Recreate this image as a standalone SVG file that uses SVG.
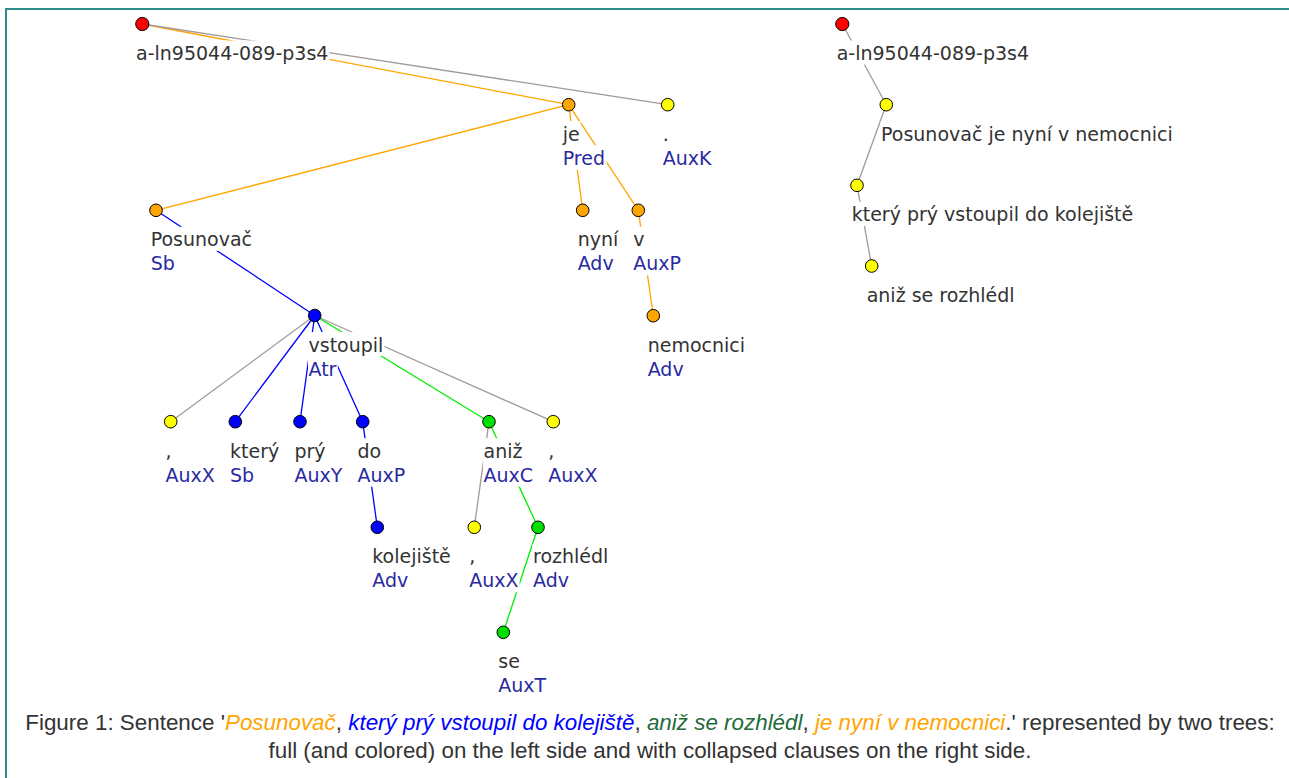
<svg xmlns="http://www.w3.org/2000/svg" width="1289" height="778" viewBox="0 0 1289 778">
<style>
.e{fill:none;stroke-width:1.3}
.eo{stroke:#ffa500}.eg{stroke:#a39999}.eb{stroke:#0000ff}.el{stroke:#00ee00}
.bg{fill:#ffffff}
.w{font-family:"DejaVu Sans","Verdana",sans-serif;font-size:19px;fill:#333333}
.f{font-family:"DejaVu Sans","Verdana",sans-serif;font-size:19px;fill:#2a2aa0}
.n{stroke:#000000;stroke-width:1}
.red{fill:#ff0000}.org{fill:#ffa500}.yel{fill:#ffff00}.blu{fill:#0000ff}.grn{fill:#00e000}
.cap{font-family:"Liberation Sans",Arial,sans-serif;font-size:22.4px;fill:#333333}
.it{font-style:italic}
</style>
<rect x="0" y="0" width="1289" height="778" fill="#ffffff"/>
<g id="frame" stroke="#2f8b8b" stroke-width="2" fill="none">
<line x1="5" y1="9" x2="1289" y2="9"/>
<line x1="6" y1="8" x2="6" y2="778"/>
</g>
<g id="connectors" class="e">
<line class="eo" x1="142.3" y1="24" x2="568.7" y2="104.7"/>
<line class="eg" x1="142.3" y1="24" x2="667.7" y2="104.7"/>
<line class="eo" x1="568.7" y1="104.7" x2="156" y2="210.3"/>
<line class="eo" x1="568.7" y1="104.7" x2="582.7" y2="210.3"/>
<line class="eo" x1="568.7" y1="104.7" x2="638.3" y2="210.3"/>
<line class="eo" x1="638.3" y1="210.3" x2="653.3" y2="315.7"/>
<line class="eb" x1="156" y1="210.3" x2="314.7" y2="315.5"/>
<line class="eg" x1="314.7" y1="315.5" x2="170.7" y2="421.7"/>
<line class="eb" x1="314.7" y1="315.5" x2="235.3" y2="421.7"/>
<line class="eb" x1="314.7" y1="315.5" x2="300" y2="421.7"/>
<line class="eb" x1="314.7" y1="315.5" x2="362.7" y2="421.7"/>
<line class="el" x1="314.7" y1="315.5" x2="489" y2="421.7"/>
<line class="eg" x1="314.7" y1="315.5" x2="553.3" y2="421.7"/>
<line class="eb" x1="362.7" y1="421.7" x2="377.3" y2="527.3"/>
<line class="eg" x1="489" y1="421.7" x2="474.3" y2="527.3"/>
<line class="el" x1="489" y1="421.7" x2="538" y2="527.3"/>
<line class="el" x1="538" y1="527.3" x2="503.3" y2="632.3"/>
<line class="eg" x1="842.3" y1="24" x2="886.3" y2="104.7"/>
<line class="eg" x1="886.3" y1="104.7" x2="857" y2="185.3"/>
<line class="eg" x1="857" y1="185.3" x2="871.7" y2="266"/>
</g>
<g id="n-root">
<rect class="bg" x="135.5" y="40.5" width="193.9" height="24"/>
<text class="w" x="136" y="60">a-ln95044-089-p3s4</text>
<circle class="n red" cx="142.3" cy="24" r="6.6"/>
</g>
<g id="n-je">
<rect class="bg" x="562.2" y="121.2" width="18.5" height="24"/>
<rect class="bg" x="562.2" y="145.2" width="44.5" height="24.5"/>
<text class="w" x="562.7" y="140.7">je</text>
<text class="f" x="562.7" y="164.7">Pred</text>
<circle class="n org" cx="568.7" cy="104.7" r="6.3"/>
</g>
<g id="n-dot">
<rect class="bg" x="662.2" y="121.2" width="7.5" height="24"/>
<rect class="bg" x="662.2" y="145.2" width="50.3" height="24.5"/>
<text class="w" x="662.7" y="140.7">.</text>
<text class="f" x="662.7" y="164.7">AuxK</text>
<circle class="n yel" cx="667.7" cy="104.7" r="6.3"/>
</g>
<g id="n-posunovac">
<rect class="bg" x="150.2" y="226.8" width="103.5" height="24"/>
<rect class="bg" x="150.2" y="250.8" width="25.6" height="24.5"/>
<text class="w" x="150.7" y="246.3">Posunovač</text>
<text class="f" x="150.7" y="270.3">Sb</text>
<circle class="n org" cx="156" cy="210.3" r="6.3"/>
</g>
<g id="n-nyni">
<rect class="bg" x="577.2" y="226.8" width="42.1" height="24"/>
<rect class="bg" x="577.2" y="250.8" width="37.8" height="24.5"/>
<text class="w" x="577.7" y="246.3">nyní</text>
<text class="f" x="577.7" y="270.3">Adv</text>
<circle class="n org" cx="582.7" cy="210.3" r="6.3"/>
</g>
<g id="n-v">
<rect class="bg" x="632.8" y="226.8" width="12.7" height="24"/>
<rect class="bg" x="632.8" y="250.8" width="49.2" height="24.5"/>
<text class="w" x="633.3" y="246.3">v</text>
<text class="f" x="633.3" y="270.3">AuxP</text>
<circle class="n org" cx="638.3" cy="210.3" r="6.3"/>
</g>
<g id="n-vstoupil">
<rect class="bg" x="308" y="332" width="76.4" height="24"/>
<rect class="bg" x="308" y="356" width="29.8" height="24.5"/>
<text class="w" x="308.5" y="351.5">vstoupil</text>
<text class="f" x="308.5" y="375.5">Atr</text>
<circle class="n blu" cx="314.7" cy="315.5" r="6.3"/>
</g>
<g id="n-nemocnici">
<rect class="bg" x="647.2" y="332.2" width="98.9" height="24"/>
<rect class="bg" x="647.2" y="356.2" width="37.8" height="24.5"/>
<text class="w" x="647.7" y="351.7">nemocnici</text>
<text class="f" x="647.7" y="375.7">Adv</text>
<circle class="n org" cx="653.3" cy="315.7" r="6.3"/>
</g>
<g id="n-comma1">
<rect class="bg" x="165" y="438.2" width="7.5" height="24"/>
<rect class="bg" x="165" y="462.2" width="50.8" height="24.5"/>
<text class="w" x="165.5" y="457.7">,</text>
<text class="f" x="165.5" y="481.7">AuxX</text>
<circle class="n yel" cx="170.7" cy="421.7" r="6.3"/>
</g>
<g id="n-ktery">
<rect class="bg" x="229.5" y="438.2" width="50.7" height="24"/>
<rect class="bg" x="229.5" y="462.2" width="25.6" height="24.5"/>
<text class="w" x="230" y="457.7">který</text>
<text class="f" x="230" y="481.7">Sb</text>
<circle class="n blu" cx="235.3" cy="421.7" r="6.3"/>
</g>
<g id="n-pry">
<rect class="bg" x="294" y="438.2" width="32.6" height="24"/>
<rect class="bg" x="294" y="462.2" width="49.4" height="24.5"/>
<text class="w" x="294.5" y="457.7">prý</text>
<text class="f" x="294.5" y="481.7">AuxY</text>
<circle class="n blu" cx="300" cy="421.7" r="6.3"/>
</g>
<g id="n-do">
<rect class="bg" x="357" y="438.2" width="25.2" height="24"/>
<rect class="bg" x="357" y="462.2" width="49.2" height="24.5"/>
<text class="w" x="357.5" y="457.7">do</text>
<text class="f" x="357.5" y="481.7">AuxP</text>
<circle class="n blu" cx="362.7" cy="421.7" r="6.3"/>
</g>
<g id="n-aniz">
<rect class="bg" x="483" y="438.2" width="40.5" height="24"/>
<rect class="bg" x="483" y="462.2" width="51.1" height="24.5"/>
<text class="w" x="483.5" y="457.7">aniž</text>
<text class="f" x="483.5" y="481.7">AuxC</text>
<circle class="n grn" cx="489" cy="421.7" r="6.3"/>
</g>
<g id="n-comma2">
<rect class="bg" x="547.8" y="438.2" width="7.5" height="24"/>
<rect class="bg" x="547.8" y="462.2" width="50.8" height="24.5"/>
<text class="w" x="548.3" y="457.7">,</text>
<text class="f" x="548.3" y="481.7">AuxX</text>
<circle class="n yel" cx="553.3" cy="421.7" r="6.3"/>
</g>
<g id="n-kolejiste">
<rect class="bg" x="371.8" y="543.8" width="80.7" height="24"/>
<rect class="bg" x="371.8" y="567.8" width="37.8" height="24.5"/>
<text class="w" x="372.3" y="563.3">kolejiště</text>
<text class="f" x="372.3" y="587.3">Adv</text>
<circle class="n blu" cx="377.3" cy="527.3" r="6.3"/>
</g>
<g id="n-comma3">
<rect class="bg" x="468.8" y="543.8" width="7.5" height="24"/>
<rect class="bg" x="468.8" y="567.8" width="50.8" height="24.5"/>
<text class="w" x="469.3" y="563.3">,</text>
<text class="f" x="469.3" y="587.3">AuxX</text>
<circle class="n yel" cx="474.3" cy="527.3" r="6.3"/>
</g>
<g id="n-rozhledl">
<rect class="bg" x="532.5" y="543.8" width="77.3" height="24"/>
<rect class="bg" x="532.5" y="567.8" width="37.8" height="24.5"/>
<text class="w" x="533" y="563.3">rozhlédl</text>
<text class="f" x="533" y="587.3">Adv</text>
<circle class="n grn" cx="538" cy="527.3" r="6.3"/>
</g>
<g id="n-se">
<rect class="bg" x="497.8" y="648.8" width="23.1" height="24"/>
<rect class="bg" x="497.8" y="672.8" width="49.4" height="24.5"/>
<text class="w" x="498.3" y="668.3">se</text>
<text class="f" x="498.3" y="692.3">AuxT</text>
<circle class="n grn" cx="503.3" cy="632.3" r="6.3"/>
</g>
<g id="r-root">
<rect class="bg" x="836.2" y="40.5" width="193.9" height="24"/>
<text class="w" x="836.7" y="60">a-ln95044-089-p3s4</text>
<circle class="n red" cx="842.3" cy="24" r="6.6"/>
</g>
<g id="r-main">
<rect class="bg" x="880.5" y="121.2" width="293.9" height="24"/>
<text class="w" x="881" y="140.7">Posunovač je nyní v nemocnici</text>
<circle class="n yel" cx="886.3" cy="104.7" r="6.3"/>
</g>
<g id="r-rel">
<rect class="bg" x="851.2" y="201.8" width="283.8" height="24"/>
<text class="w" x="851.7" y="221.3">který prý vstoupil do kolejiště</text>
<circle class="n yel" cx="857" cy="185.3" r="6.3"/>
</g>
<g id="r-adv">
<rect class="bg" x="866.2" y="282.5" width="149.9" height="24"/>
<text class="w" x="866.7" y="302">aniž se rozhlédl</text>
<circle class="n yel" cx="871.7" cy="266" r="6.3"/>
</g>
<g id="caption">
<text class="cap" x="650" y="730" text-anchor="middle">Figure 1: Sentence '<tspan class="it" fill="#ffa500">Posunovač</tspan>, <tspan class="it" fill="#0000ff">který prý vstoupil do kolejiště</tspan>, <tspan class="it" fill="#1f6b3b">aniž se rozhlédl</tspan>, <tspan class="it" fill="#ffa500">je nyní v nemocnici</tspan>.' represented by two trees:</text>
<text class="cap" x="650" y="758" text-anchor="middle">full (and colored) on the left side and with collapsed clauses on the right side.</text>
</g>
</svg>
